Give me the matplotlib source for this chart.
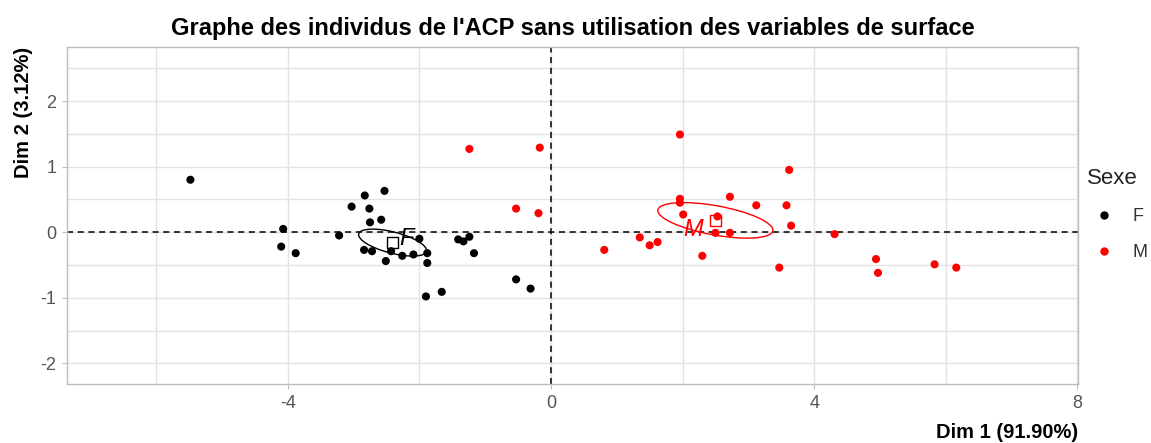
import matplotlib

matplotlib.use("Agg")
import matplotlib.pyplot as plt  # noqa: E402
import numpy as np  # noqa: E402
from matplotlib.lines import Line2D  # noqa: E402
from matplotlib.patches import Ellipse  # noqa: E402
from matplotlib.ticker import MultipleLocator  # noqa: E402

plt.rcParams["font.family"] = ["Liberation Sans", "DejaVu Sans"]
plt.rcParams["axes.unicode_minus"] = False

# individual coordinates on the first two PCA dimensions, by sex
f_dim1 = [-5.48, -4.07, -4.10, -3.88, -3.22, -3.03, -2.83, -2.76, -2.53, -2.75,
          -2.58, -2.84, -2.72, -2.51, -2.43, -2.26, -2.09, -2.00, -1.88, -1.88,
          -1.90, -1.66, -1.41, -1.33, -1.24, -1.17, -0.53, -0.31]
f_dim2 = [0.80, 0.05, -0.22, -0.32, -0.05, 0.39, 0.56, 0.36, 0.63, 0.15,
          0.19, -0.27, -0.29, -0.44, -0.29, -0.36, -0.34, -0.10, -0.32, -0.47,
          -0.98, -0.91, -0.11, -0.14, -0.07, -0.32, -0.72, -0.86]
m_dim1 = [1.96, 3.62, 1.96, 1.96, 2.72, 3.12, 3.58, 2.01, 2.53, 3.65,
          2.50, 2.72, 4.31, 1.35, 1.62, 1.50, 0.81, 2.30, 3.47, 4.94,
          4.97, 5.83, 6.16, -1.24, -0.17, -0.53, -0.19]
m_dim2 = [1.49, 0.95, 0.51, 0.45, 0.54, 0.41, 0.41, 0.27, 0.24, 0.10,
          -0.01, -0.01, -0.03, -0.08, -0.15, -0.20, -0.27, -0.36, -0.54, -0.41,
          -0.62, -0.49, -0.54, 1.27, 1.29, 0.36, 0.29]

groups = ["F", "M"]
group_colors = ["black", "red"]
# where the category names sit
label_dim1 = [-2.20, 2.16]
label_dim2 = [-0.10, 0.04]

dim1_pct = 91.90
dim2_pct = 3.12
CHI2_95_2DF = 5.991


def conf_ellipse(ax, xs, ys, color):
    """95% confidence ellipse around the mean point of a group."""
    pts = np.column_stack([xs, ys])
    centre = pts.mean(axis=0)
    cov = np.cov(pts, rowvar=False) / len(pts)
    vals, vecs = np.linalg.eigh(cov)
    order = vals.argsort()[::-1]
    vals, vecs = vals[order], vecs[:, order]
    angle = np.degrees(np.arctan2(vecs[1, 0], vecs[0, 0]))
    w, h = 2 * np.sqrt(vals * CHI2_95_2DF)
    ax.add_patch(Ellipse(centre, w, h, angle=angle, fill=False,
                         edgecolor=color, lw=1.0, zorder=3))
    return centre


fig = plt.figure(figsize=(11.51, 4.43), dpi=100)
ax = fig.add_axes([66.7 / 1151, 1 - 384.3 / 443,
                   (1078 - 66.7) / 1151, (384.3 - 47.3) / 443])

ax.axhline(0, color="black", ls=(0, (4, 3)), lw=1.1, zorder=2)
ax.axvline(0, color="black", ls=(0, (4, 3)), lw=1.1, zorder=2)

data = [(f_dim1, f_dim2), (m_dim1, m_dim2)]
for (xs, ys), g, col, lx, ly in zip(data, groups, group_colors, label_dim1, label_dim2):
    ax.scatter(xs, ys, s=34, color=col, edgecolors="none", zorder=4)
    c = conf_ellipse(ax, xs, ys, col)
    ax.scatter([c[0]], [c[1]], marker="s", s=55, facecolors="none",
               edgecolors=col, linewidths=1.0, zorder=5)
    ax.text(lx, ly, g, color=col, fontsize=17, style="italic",
            ha="center", va="center", zorder=5)

ax.set_xlim(-7.36, 8.01)
ax.set_ylim(-2.32, 2.82)
ax.xaxis.set_major_locator(MultipleLocator(4))
ax.xaxis.set_minor_locator(MultipleLocator(2))
ax.yaxis.set_major_locator(MultipleLocator(1))
ax.yaxis.set_minor_locator(MultipleLocator(0.5))
ax.grid(which="both", color="#e3e3e3", lw=1.0, zorder=0)
ax.set_axisbelow(True)
for s in ax.spines.values():
    s.set_color("#bdbdbd")
    s.set_linewidth(1.0)
ax.tick_params(which="major", length=3.5, width=0.8, color="#bdbdbd",
               labelsize=13, labelcolor="#555555", pad=4)
ax.tick_params(which="minor", length=0)

ax.set_title("Graphe des individus de l'ACP sans utilisation des variables de surface",
             fontsize=17, fontweight="bold", pad=9)
ax.set_xlabel(f"Dim 1 ({dim1_pct:.2f}%)", loc="right", fontsize=14.5,
              fontweight="bold", labelpad=8)
ax.set_ylabel(f"Dim 2 ({dim2_pct:.2f}%)", loc="top", fontsize=14.5,
              fontweight="bold", labelpad=5)

handles = [Line2D([], [], ls="none", marker="o", ms=5, color=c) for c in group_colors]
leg = ax.legend(handles, groups, title="Sexe", loc="upper left",
                bbox_to_anchor=(1071 / 1151, 1 - 152 / 443),
                bbox_transform=fig.transFigure, frameon=False,
                fontsize=13, title_fontsize=16, handlelength=1.8,
                handletextpad=0.7, labelspacing=1.05, alignment="left")
for t in leg.get_texts():
    t.set_color("#333333")
leg.get_title().set_color("#222222")

fig.savefig("out.png", dpi=100)
